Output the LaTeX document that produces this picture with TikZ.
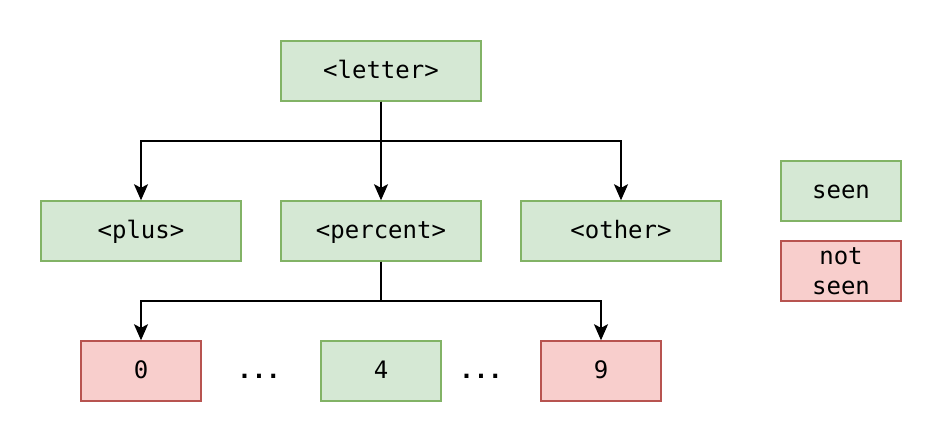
\documentclass[tikz,border=0pt]{standalone}
\usepackage{fontspec}
\setmonofont{DejaVu Sans Mono}
\usetikzlibrary{arrows.meta}
\definecolor{gfill}{HTML}{D5E8D4}
\definecolor{gline}{HTML}{82B366}
\definecolor{rfill}{HTML}{F8CECC}
\definecolor{rline}{HTML}{B85450}
\begin{document}
\begin{tikzpicture}[x=0.5pt,y=-0.5pt,
  txt/.style={font=\ttfamily\fontsize{12}{15}\selectfont},
  box/.style={txt, draw, line width=0.75pt, minimum height=30pt, inner sep=0pt, align=center},
  one/.style={text height=1.85ex, text depth=0pt},
  green/.style={box, fill=gfill, draw=gline},
  red/.style={box, fill=rfill, draw=rline},
  wide/.style={minimum width=100pt},
  narrow/.style={minimum width=60pt},
  conn/.style={line width=1pt, -{Stealth[length=8pt,width=7pt,inset=1.8pt]}}]
\useasboundingbox (0,0) rectangle (944,444);
\node[green,wide,one] (letter) at (381,71) {<letter>};
\node[green,wide,one] (plus) at (141,231) {<plus>};
\node[green,wide,one] (percent) at (381,231) {<percent>};
\node[green,wide,one] (other) at (621,231) {<other>};
\node[green,narrow,one] (seen) at (841,191) {seen};
\node[red,narrow] (notseen) at (841,271) {not\\seen};
\node[red,narrow,one] (zero) at (141,371) {0};
\node[green,narrow,one] (four) at (381,371) {4};
\node[red,narrow,one] (nine) at (601,371) {9};
\node[txt,one,font=\ttfamily\bfseries\fontsize{12}{15}\selectfont] (d1) at (259,371) {...};
\node[txt,one,font=\ttfamily\bfseries\fontsize{12}{15}\selectfont] (d2) at (481,371) {...};
\coordinate (j1) at (381,141);
\coordinate (j2) at (381,301);
\draw[conn] (letter.south) -- (percent.north);
\draw[conn] (letter.south) |- (j1) -| (plus.north);
\draw[conn] (letter.south) |- (j1) -| (other.north);
\draw[conn] (percent.south) |- (j2) -| (zero.north);
\draw[conn] (percent.south) |- (j2) -| (nine.north);
\end{tikzpicture}
\end{document}
